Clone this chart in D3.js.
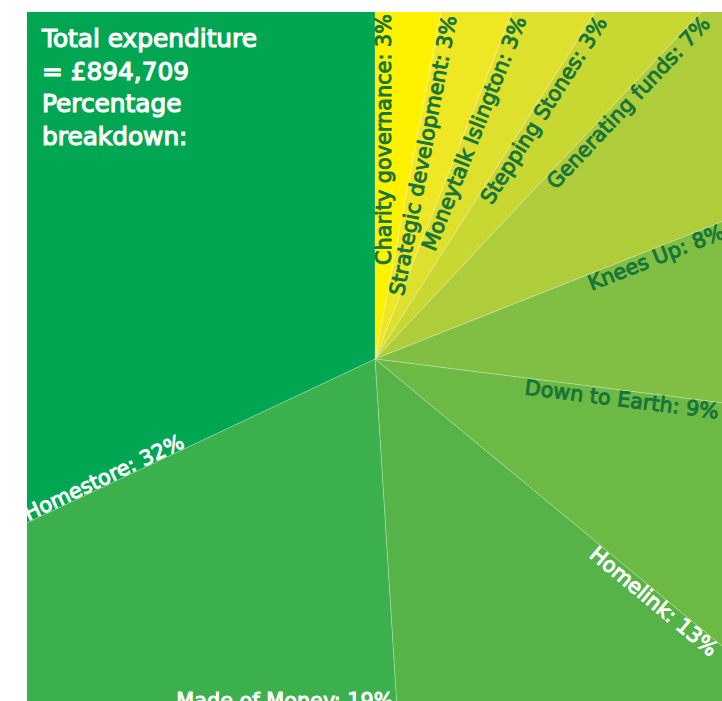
<!DOCTYPE html>
<html>
<head>
<meta charset="utf-8">
<script src="https://cdn.jsdelivr.net/npm/d3@7"></script>
<style>
  html, body { margin: 0; padding: 0; background: #ffffff; }
  svg { display: block; }
</style>
</head>
<body>
<svg id="chart" width="722" height="701"></svg>
<script>
// ---- data ----
const categories = ["Charity governance", "Strategic development", "Moneytalk Islington", "Stepping Stones",
  "Generating funds", "Knees Up", "Down to Earth", "Homelink", "Made of Money", "Homestore"];
const percentages = [3, 3, 3, 3, 7, 8, 9, 13, 19, 32];
const titleLines = ["Total expenditure", "= £894,709", "Percentage", "breakdown:"];

// ---- style ----
const sliceColors = ["#fff200", "#efe724", "#dde02c", "#c9d732", "#afcd3a", "#80bf43", "#6db945", "#55b348", "#3bb04d", "#00a651"];
const darkInk = "#16753a";
const frame = { x0: 27, y0: 12, x1: 722, y1: 701 };
const cx = 375, cy = 359, R = 520;
const fontFamily = "'DejaVu Sans', Verdana, sans-serif";

const svg = d3.select("#chart");
svg.append("defs").append("clipPath").attr("id", "frameClip")
  .append("rect").attr("x", frame.x0).attr("y", frame.y0)
  .attr("width", frame.x1 - frame.x0).attr("height", frame.y1 - frame.y0);

const g = svg.append("g").attr("clip-path", "url(#frameClip)");

const data = categories.map((c, i) => ({ name: c, value: percentages[i], i }));
const pie = d3.pie().sort(null).value(d => d.value).startAngle(0).endAngle(2 * Math.PI);
const arcs = pie(data);
const arc = d3.arc().innerRadius(0).outerRadius(R);
const color = d3.scaleOrdinal().domain(categories).range(sliceColors);

const pieG = g.append("g").attr("transform", `translate(${cx},${cy})`);
pieG.selectAll("path").data(arcs).join("path")
  .attr("d", arc)
  .attr("fill", d => color(d.data.name))
  .attr("stroke", "rgba(255,255,255,0.35)")
  .attr("stroke-width", 0.7);

// ---- labels: along the start edge of each slice, ending at the frame ----
function hitFrame(a) {
  const dx = Math.sin(a), dy = -Math.cos(a);
  let best = Infinity, edge = null;
  const cand = [
    [dx > 1e-9 ? (frame.x1 - cx) / dx : Infinity, "right"],
    [dx < -1e-9 ? (frame.x0 - cx) / dx : Infinity, "left"],
    [dy < -1e-9 ? (frame.y0 - cy) / dy : Infinity, "top"],
    [dy > 1e-9 ? (frame.y1 - cy) / dy : Infinity, "bottom"]
  ];
  cand.forEach(([t, e]) => { if (t < best) { best = t; edge = e; } });
  return { t: best, edge, dx, dy };
}

const inset = 2;
const labelG = g.append("g")
  .style("font-family", fontFamily)
  .style("font-size", "20.8px");

arcs.forEach(d => {
  const a = d.startAngle;
  const h = hitFrame(a);
  const ink = d3.lab(color(d.data.name)).l < 66.5 ? "#ffffff" : darkInk;
  const txt = `${d.data.name}: ${d.data.value}%`;
  let x, y, rot, anchor, dy;
  if (h.edge === "bottom") {
    x = cx + h.dx * h.t - 3; y = frame.y1 + 7; rot = 0; anchor = "end"; dy = "0";
  } else if (a > Math.PI) {
    const t = h.t - inset;
    x = cx + h.dx * t; y = cy + h.dy * t;
    rot = a * 180 / Math.PI - 270; anchor = "start"; dy = "-0.05em";
  } else {
    const t = h.t - inset;
    x = cx + h.dx * t; y = cy + h.dy * t;
    rot = a * 180 / Math.PI - 90; anchor = "end"; dy = "0.78em";
  }
  labelG.append("text")
    .attr("transform", `translate(${x},${y}) rotate(${rot})`)
    .attr("text-anchor", anchor)
    .attr("dy", dy)
    .attr("fill", ink)
    .attr("stroke", ink)
    .attr("stroke-width", 0.95)
    .text(txt);
});

// ---- title ----
const titleG = svg.append("g")
  .style("font-family", fontFamily)
  .style("font-size", "24.8px")
  .attr("fill", "#ffffff")
  .attr("stroke", "#ffffff")
  .attr("stroke-width", 1.2);
titleG.selectAll("text").data(titleLines).join("text")
  .attr("x", 42)
  .attr("y", (d, i) => 47 + i * 32.7)
  .text(d => d);
</script>
</body>
</html>
